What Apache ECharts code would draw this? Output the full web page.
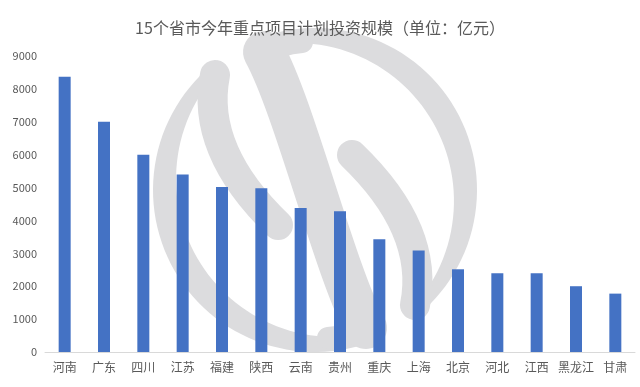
<!DOCTYPE html>
<html>
<head>
<meta charset="utf-8">
<script src="https://cdn.jsdelivr.net/npm/echarts@6/dist/echarts.min.js"></script>
<style>html,body{margin:0;padding:0;background:#fff;}#main{width:640px;height:387px;}</style>
</head>
<body>
<div id="main"></div>
<script>
const titleText = '15个省市今年重点项目计划投资规模（单位：亿元）';
const categories = ['河南','广东','四川','江苏','福建','陕西','云南','贵州','重庆','上海','北京','河北','江西','黑龙江','甘肃'];
const values = [8370, 7000, 6000, 5400, 5020, 4980, 4375, 4280, 3430, 3085, 2515, 2395, 2395, 2000, 1775];
const yTicks = [0, 1000, 2000, 3000, 4000, 5000, 6000, 7000, 8000, 9000];

// watermark (decorative logo)
const CX = 315, CY = 190, GRAY = '#dcdcde';
function crescentPoints(a1, a2) {
  const R = 162, d = 22, rho = 158;
  const mid = (a1 + a2) / 2;
  const outer = [], inner = [];
  const n = 60;
  for (let i = 0; i <= n; i++) {
    const t = (a1 + (a2 - a1) * i / n) * Math.PI / 180;
    outer.push([CX + R * Math.cos(t), CY + R * Math.sin(t)]);
    const phi = t - mid * Math.PI / 180;
    const r = -d * Math.cos(phi) + Math.sqrt(rho * rho - d * d * Math.sin(phi) * Math.sin(phi));
    inner.push([CX + r * Math.cos(t), CY + r * Math.sin(t)]);
  }
  return outer.concat(inner.reverse());
}
function half(rot) {
  return {
    type: 'group', rotation: rot, originX: CX, originY: CY, silent: true,
    children: [
      { type: 'polygon', shape: { points: crescentPoints(-113, 53) }, style: { fill: GRAY } },
      { type: 'bezierCurve', shape: { x1: 352, y1: 155, cpx1: 430, cpy1: 230, x2: 415, y2: 305 },
        style: { stroke: GRAY, lineWidth: 30, fill: null, lineCap: 'round' } },
      { type: 'bezierCurve', shape: { x1: 262, y1: 54, cpx1: 280, cpy1: 44, x2: 302, y2: 42 },
        style: { stroke: GRAY, lineWidth: 22, fill: null, lineCap: 'round' } }
    ]
  };
}
const watermark = {
  type: 'group', silent: true, z: -10,
  children: [
    half(0), half(Math.PI),
    { type: 'bezierCurve', shape: { x1: 264, y1: 52, cpx1: 295, cpy1: 108, cpx2: 335, cpy2: 272, x2: 366, y2: 328 },
      style: { stroke: GRAY, lineWidth: 42, fill: null, lineCap: 'round' } }
  ]
};

const chart = echarts.init(document.getElementById('main'), null, { renderer: 'canvas' });
chart.setOption({
  animation: false,
  backgroundColor: '#ffffff',
  textStyle: { fontFamily: '"Noto Sans CJK SC", "Noto Sans", sans-serif' },
  title: {
    text: titleText, left: 'center', top: 15,
    textStyle: { fontSize: 16, fontWeight: 'normal', color: '#595959', fontFamily: '"Noto Sans CJK SC", sans-serif' }
  },
  graphic: [watermark],
  grid: { left: 45, right: 5, top: 56, bottom: 35, containLabel: false },
  xAxis: {
    type: 'category', data: categories,
    axisLine: { lineStyle: { color: '#d9d9d9', width: 1 } },
    axisTick: { show: false },
    axisLabel: { color: '#595959', fontSize: 12, margin: 9, interval: 0 }
  },
  yAxis: {
    type: 'value', min: yTicks[0], max: yTicks[yTicks.length - 1], interval: yTicks[1] - yTicks[0],
    axisLine: { show: false }, axisTick: { show: false },
    splitLine: { show: false },
    axisLabel: { color: '#595959', fontSize: 11, margin: 8, formatter: v => String(v) }
  },
  series: [{
    type: 'bar', data: values, barWidth: 12,
    itemStyle: { color: '#4472C4' }, z: 5
  }]
});
</script>
</body>
</html>
